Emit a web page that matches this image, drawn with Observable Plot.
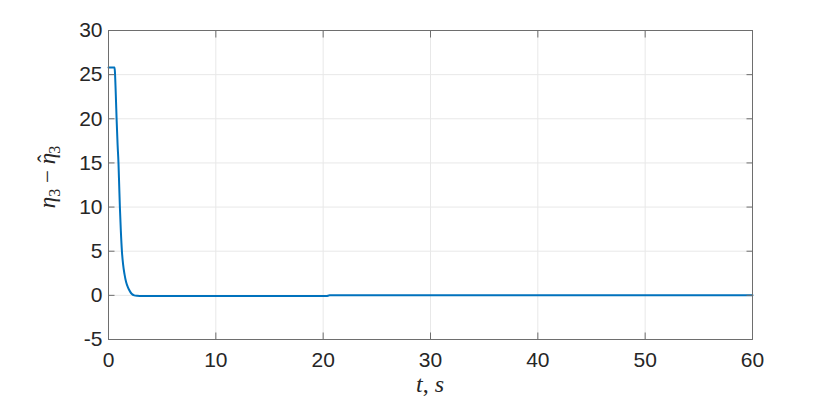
<!DOCTYPE html>
<html>
<head>
<meta charset="utf-8">
<script src="https://cdn.jsdelivr.net/npm/d3@7"></script>
<script src="https://cdn.jsdelivr.net/npm/@observablehq/plot@0.6"></script>
<style>
  html, body { margin: 0; padding: 0; background: #fff; }
  #chart { width: 830px; height: 401px; }
</style>
</head>
<body>
<div id="chart"></div>
<script>
// time (s)
const tValues = [0, 0.56, 0.6, 0.65, 0.7, 0.76, 0.85, 0.93, 1.0, 1.06, 1.15, 1.25, 1.36, 1.49, 1.64, 1.81, 2.0, 2.18, 2.4, 2.65, 3.2, 5, 10, 15, 20.3, 20.6, 30, 41.5, 42, 50, 60];
// eta3 - eta3 hat
const errValues = [25.8, 25.8, 25.3, 23.8, 22.0, 19.8, 17.0, 15.0, 12.3, 10.0, 7.3, 5.0, 3.5, 2.4, 1.5, 0.9, 0.45, 0.15, 0.0, -0.05, -0.08, -0.08, -0.08, -0.08, -0.08, 0.0, 0.0, 0.0, 0.02, 0.02, 0.02];
const xTicks = [0, 10, 20, 30, 40, 50, 60];
const yTicks = [-5, 0, 5, 10, 15, 20, 25, 30];

const data = tValues.map((t, i) => ({t, e: errValues[i]}));
const axisColor = "#6e6e6e";
const textColor = "#262626";

const plot = Plot.plot({
  width: 830,
  height: 401,
  marginLeft: 108,
  marginRight: 78,
  marginTop: 30,
  marginBottom: 62,
  style: {fontFamily: "'Liberation Sans', Arial, sans-serif", fontSize: "21px", color: textColor, background: "#fff"},
  x: {domain: [0, 60], ticks: xTicks, label: null},
  y: {domain: [-5, 30], ticks: yTicks, label: null},
  marks: [
    Plot.gridX(xTicks, {stroke: "#e8e8e8", strokeOpacity: 1}),
    Plot.gridY(yTicks, {stroke: "#e8e8e8", strokeOpacity: 1}),
    Plot.line(data, {x: "t", y: "e", stroke: "#0072BD", strokeWidth: 2, curve: "monotone-x"}),
    Plot.frame({stroke: axisColor, strokeWidth: 1}),
    // inward ticks on all four sides
    Plot.axisX(xTicks, {anchor: "bottom", tickSize: -6.5, tickFormat: () => "", stroke: axisColor, label: null}),
    Plot.axisX(xTicks, {anchor: "top", tickSize: -6.5, tickFormat: () => "", stroke: axisColor, label: null}),
    Plot.axisY(yTicks, {anchor: "left", tickSize: -6.5, tickFormat: () => "", stroke: axisColor, label: null}),
    Plot.axisY(yTicks, {anchor: "right", tickSize: -6.5, tickFormat: () => "", stroke: axisColor, label: null}),
    // tick labels
    Plot.axisX(xTicks, {anchor: "bottom", tickSize: 0, tickPadding: 13, tickFormat: d => String(d), fill: textColor, label: null}),
    Plot.axisY(yTicks, {anchor: "left", tickSize: 0, tickPadding: 6, tickFormat: d => String(d), fill: textColor, label: null})
  ]
});

// axis titles (math-style)
const svg = d3.select(plot);
const xl = svg.append("text")
  .attr("x", 430).attr("y", 392)
  .attr("text-anchor", "middle")
  .attr("fill", textColor)
  .style("font-family", "'Liberation Serif', 'DejaVu Serif', serif")
  .style("font-size", "24px");
xl.append("tspan").style("font-style", "italic").text("t");
xl.append("tspan").text(", ");
xl.append("tspan").style("font-style", "italic").text("s");

const yl = svg.append("text")
  .attr("transform", "translate(55,177) rotate(-90)")
  .attr("text-anchor", "middle")
  .attr("fill", textColor)
  .style("font-family", "'Liberation Serif', 'DejaVu Serif', serif")
  .style("font-size", "23px");
yl.append("tspan").style("font-style", "italic").text("η");
yl.append("tspan").attr("dy", 5).style("font-size", "16px").text("3");
yl.append("tspan").attr("dy", -5).text(" − ");
yl.append("tspan").style("font-style", "italic").text("η");
yl.append("tspan").attr("dx", "-0.42em").attr("dy", -1).text("ˆ");
yl.append("tspan").attr("dx", "0.06em").attr("dy", 6).style("font-size", "16px").text("3");

document.getElementById("chart").appendChild(plot);
</script>
</body>
</html>
